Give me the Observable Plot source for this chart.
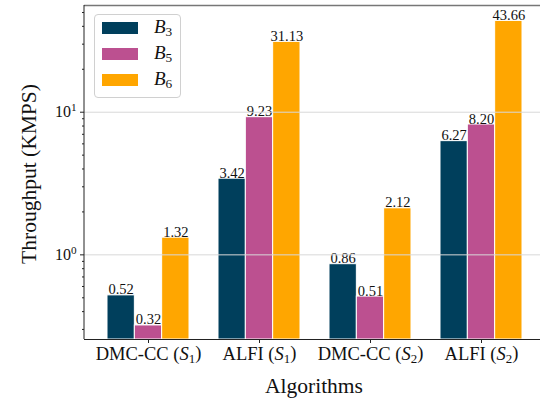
<!DOCTYPE html>
<html>
<head>
<meta charset="utf-8">
<script src="https://cdn.jsdelivr.net/npm/d3@7"></script>
<script src="https://cdn.jsdelivr.net/npm/@observablehq/plot@0.6"></script>
<style>
  html, body { margin: 0; padding: 0; background: #fff; }
  #wrap { position: relative; width: 541px; height: 400px; overflow: hidden; font-family: "Liberation Serif", serif; }
  #legend { position: absolute; left: 94px; top: 14px; width: 85px; height: 82px; border: 1px solid #d0d0d0; border-radius: 4px; background: rgba(255,255,255,0.85); }
  .row { position: absolute; left: 7px; height: 12px; width: 80px; }
  .sw { position: absolute; left: 0; top: 0; width: 36px; height: 12px; }
  .lb { position: absolute; left: 52px; top: -6px; font-size: 19px; line-height: 22px; color: #111; }
  .lb sub { font-size: 70%; vertical-align: -0.25em; font-style: normal; }
</style>
</head>
<body>
<div id="wrap"></div>
<script>
// ---- data ----
const groups = ["DMC-CC (S_1)", "ALFI (S_1)", "DMC-CC (S_2)", "ALFI (S_2)"];
const seriesNames = ["B_3", "B_5", "B_6"];
const B3 = [0.52, 3.42, 0.86, 6.27];
const B5 = [0.32, 9.23, 0.51, 8.20];
const B6 = [1.32, 31.13, 2.12, 43.66];
const colors = ["#003f5c", "#bc5090", "#ffa600"];
const majorTicks = [1, 10];
const minorTicks = [0.3, 0.4, 0.5, 0.6, 0.7, 0.8, 0.9, 2, 3, 4, 5, 6, 7, 8, 9, 20, 30, 40, 50];

const seriesValues = [B3, B5, B6];
const rows = [];
seriesNames.forEach((s, i) => groups.forEach((g, j) => rows.push({group: g, series: s, si: i, value: seriesValues[i][j]})));

// ---- layout ----
const W = 541, H = 400;
const yMin = 0.255, yMax = 56;
const xRange = [84, 544.5];
const padIn = 0.265, padOut = 0.197;
const step = (xRange[1] - xRange[0]) / (groups.length - padIn + 2 * padOut);
const bw = step * (1 - padIn);
const sub = bw / 3;

const marks = [];
seriesNames.forEach((s, i) => {
  const d = rows.filter(r => r.si === i);
  marks.push(Plot.barY(d, {
    x: "group", y1: () => yMin, y2: "value", fill: "series",
    insetLeft: i * sub, insetRight: (2 - i) * sub,
    stroke: "white", strokeWidth: 1
  }));
  marks.push(Plot.text(d, {
    x: "group", y: "value", text: r => r.value.toFixed(2),
    dx: (i - 1) * sub, dy: -1, lineAnchor: "bottom",
    fontSize: 14.5, fill: "#111", fontFamily: "Liberation Serif"
  }));
});
marks.push(Plot.gridY(majorTicks, {stroke: "#d8d8d8", strokeOpacity: 1, strokeWidth: 1}));
marks.push(Plot.axisY({ticks: minorTicks, tickSize: 2, tickFormat: () => "", label: null, stroke: "#222"}));
marks.push(Plot.axisY({ticks: majorTicks, tickSize: 4, tickPadding: 4, tickFormat: d => String(Math.round(Math.log10(d))), label: null, fontSize: 16, stroke: "#222"}));
marks.push(Plot.axisX({tickSize: 4, tickPadding: 3.5, label: null, fontSize: 18.5, stroke: "#222"}));
marks.push(Plot.ruleY([yMin], {stroke: "#222", strokeWidth: 1}));
marks.push(Plot.ruleY([yMax], {stroke: "#777", strokeWidth: 1.6}));

const plot = Plot.plot({
  width: W, height: H,
  marginLeft: 84, marginRight: 1, marginTop: 5, marginBottom: 61,
  style: {fontFamily: "Liberation Serif", background: "#fff", color: "#111", overflow: "visible"},
  x: {type: "band", domain: groups, range: xRange, paddingInner: padIn, paddingOuter: padOut, label: null},
  y: {type: "log", domain: [yMin, yMax], label: null},
  color: {domain: seriesNames, range: colors},
  marks
});

const svg = d3.select(plot);
// left spine
svg.append("line").attr("x1", 84).attr("x2", 84).attr("y1", 5).attr("y2", 339)
  .attr("stroke", "#222").attr("stroke-width", 1);

// subscript / superscript formatting of tick labels
function subText(sel, str) {
  sel.text(null);
  const m = str.match(/^(.*)\(([A-Z])_(\d)\)$/);
  if (!m) { sel.text(str); return; }
  sel.append("tspan").text(m[1] + "(");
  sel.append("tspan").attr("font-style", "italic").text(m[2]);
  sel.append("tspan").attr("font-size", "70%").attr("dy", "0.25em").text(m[3]);
  sel.append("tspan").attr("dy", "-0.25em").text(")");
}
svg.selectAll('g[aria-label="x-axis tick label"] text').each(function() {
  const t = d3.select(this); subText(t, t.text());
});
svg.selectAll('g[aria-label="y-axis tick label"] text').each(function() {
  const t = d3.select(this); const e = t.text();
  if (!e) return;
  t.text(null);
  t.append("tspan").text("10");
  t.append("tspan").attr("font-size", "70%").attr("dy", "-0.55em").text(e);
});

// axis titles
svg.append("text").attr("transform", "translate(36,174) rotate(-90)")
  .attr("text-anchor", "middle").attr("font-size", 21.5).attr("fill", "#111")
  .attr("font-family", "Liberation Serif").text("Throughput (KMPS)");
svg.append("text").attr("x", 314).attr("y", 393)
  .attr("text-anchor", "middle").attr("font-size", 21.5).attr("fill", "#111")
  .attr("font-family", "Liberation Serif").text("Algorithms");

const wrap = document.getElementById("wrap");
wrap.appendChild(plot);

// legend
const leg = document.createElement("div");
leg.id = "legend";
seriesNames.forEach((s, i) => {
  const r = document.createElement("div");
  r.className = "row";
  r.style.top = (7 + i * 26) + "px";
  const [b, n] = s.split("_");
  r.innerHTML = `<div class="sw" style="background:${colors[i]}"></div><div class="lb"><i>${b}</i><sub>${n}</sub></div>`;
  leg.appendChild(r);
});
wrap.appendChild(leg);
</script>
</body>
</html>
